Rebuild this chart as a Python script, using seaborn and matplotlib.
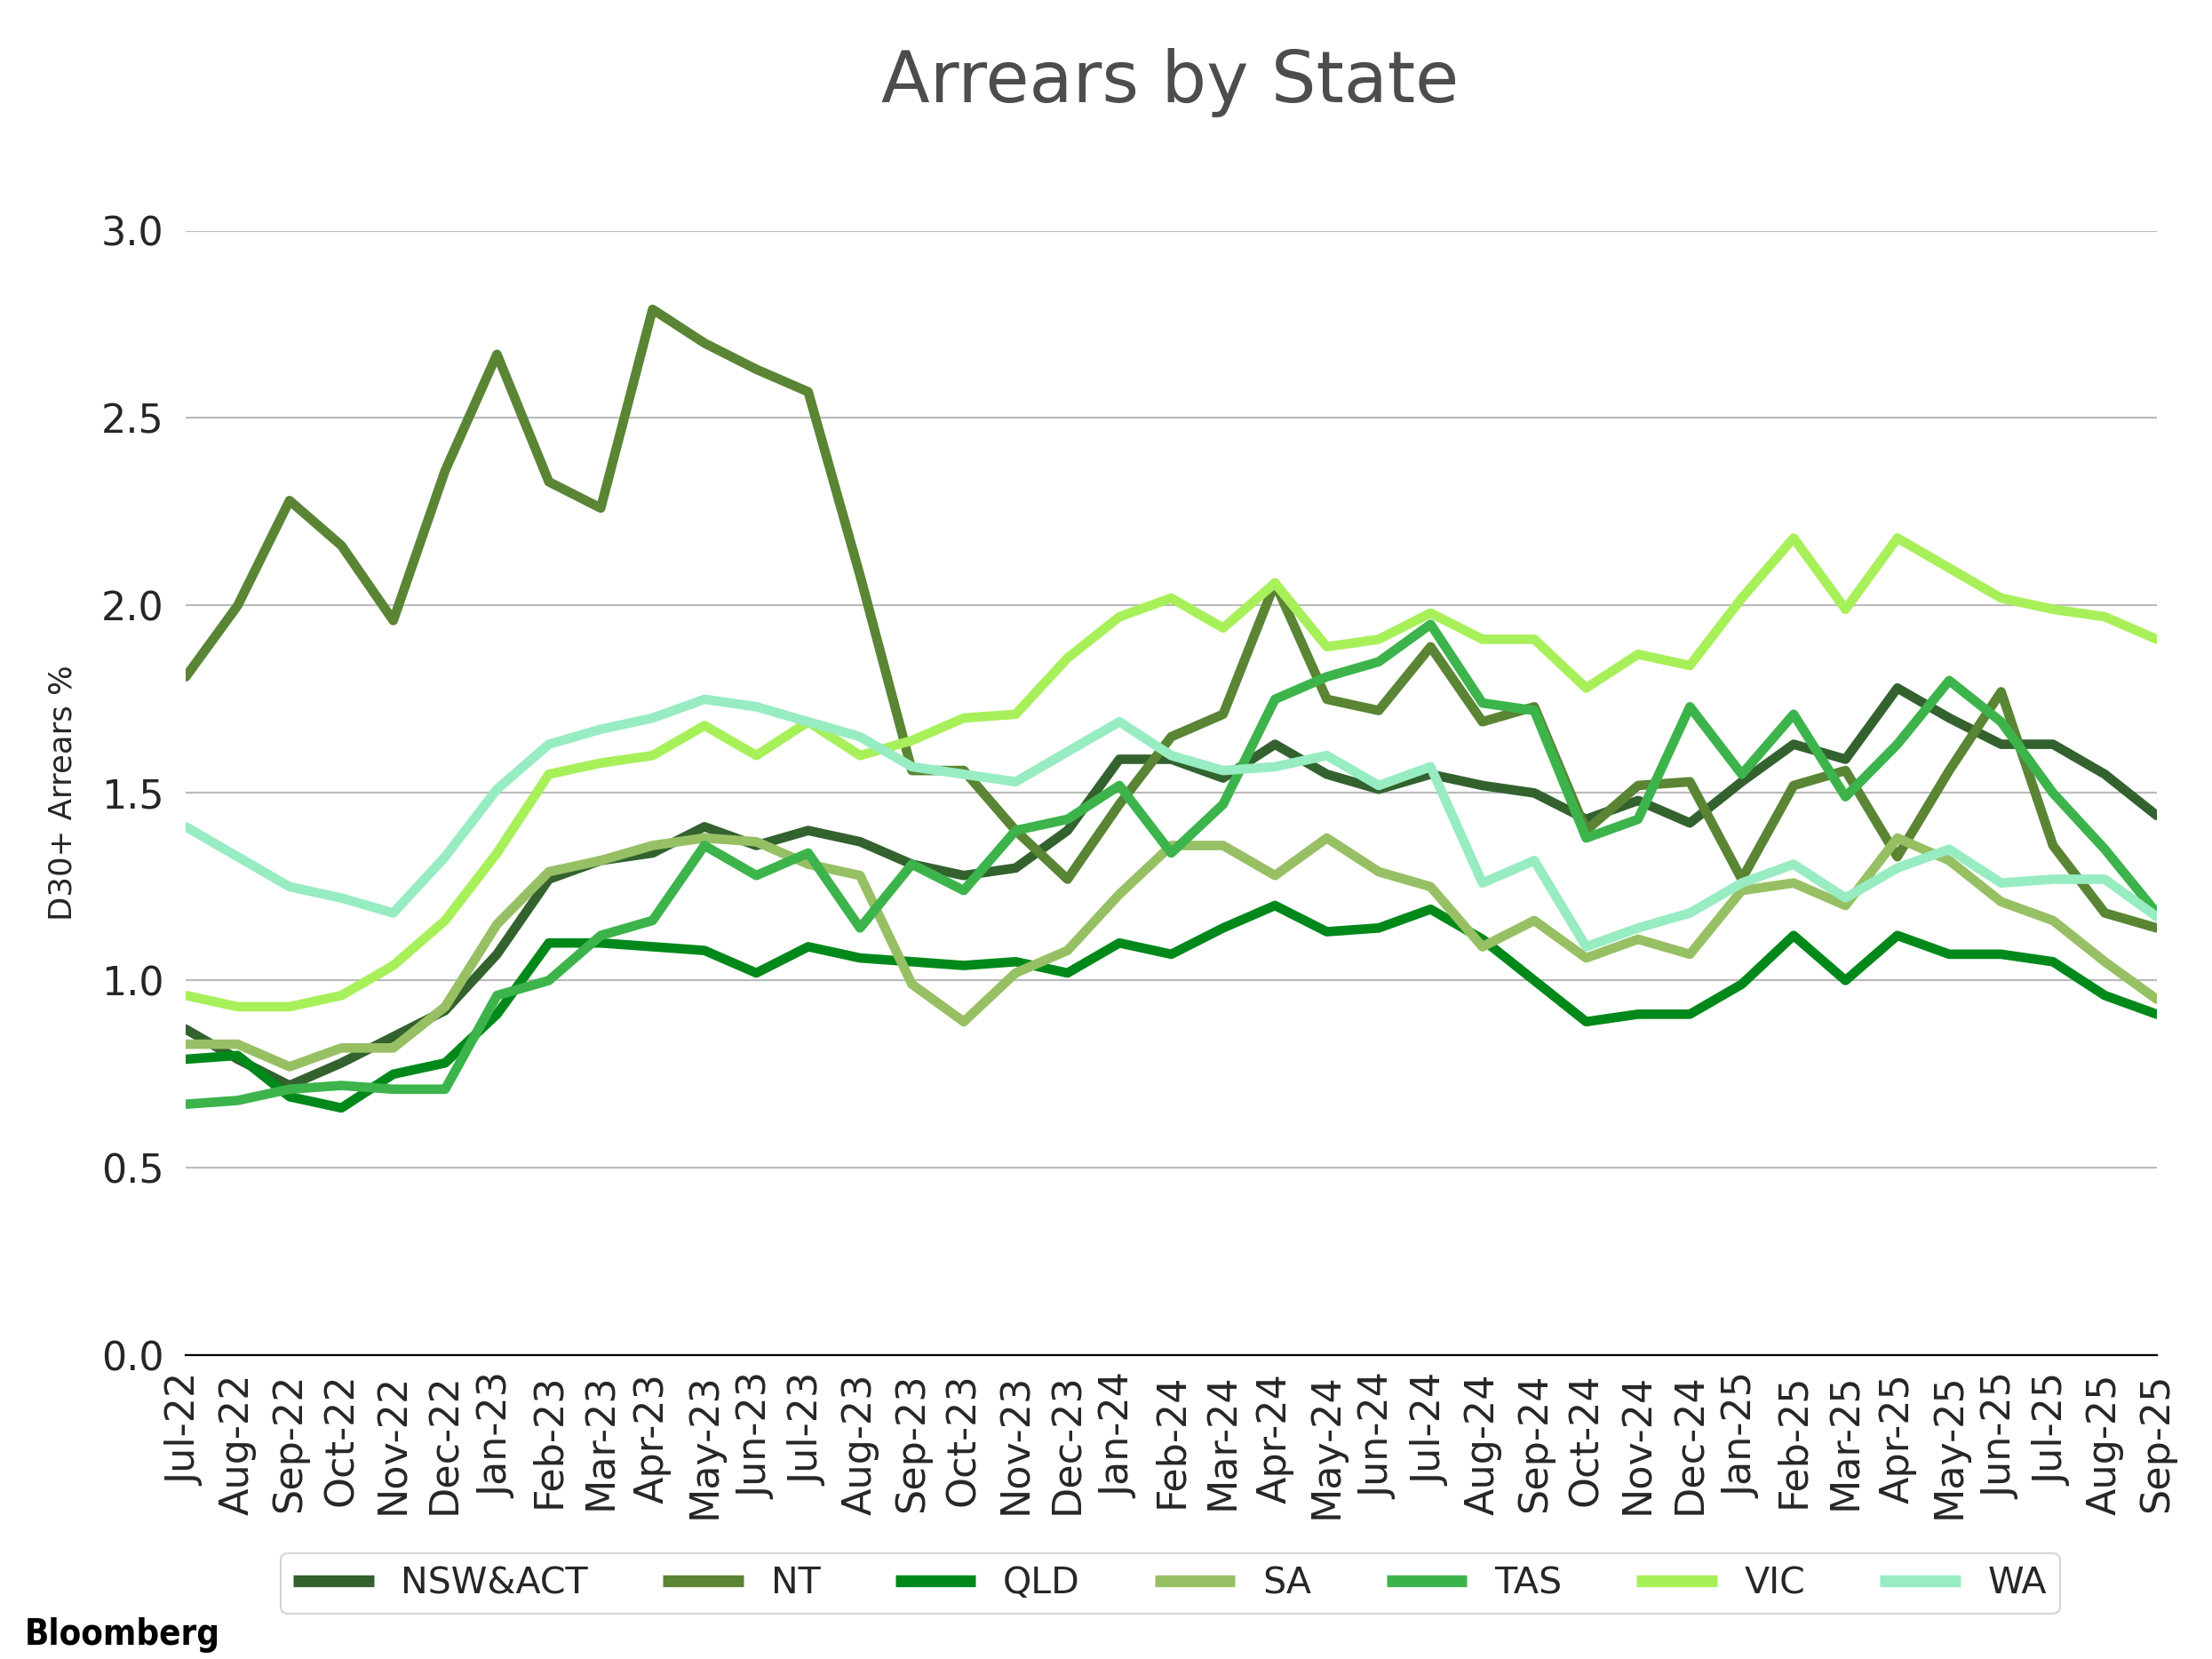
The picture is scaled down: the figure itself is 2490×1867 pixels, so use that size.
import numpy as np
import pandas as pd
import seaborn as sns
import matplotlib
matplotlib.use("Agg")
import matplotlib.pyplot as plt

months = ["Jul-22","Aug-22","Sep-22","Oct-22","Nov-22","Dec-22","Jan-23","Feb-23","Mar-23","Apr-23",
          "May-23","Jun-23","Jul-23","Aug-23","Sep-23","Oct-23","Nov-23","Dec-23","Jan-24","Feb-24",
          "Mar-24","Apr-24","May-24","Jun-24","Jul-24","Aug-24","Sep-24","Oct-24","Nov-24","Dec-24",
          "Jan-25","Feb-25","Mar-25","Apr-25","May-25","Jun-25","Jul-25","Aug-25","Sep-25"]

nsw_act = [0.87, 0.79, 0.72, 0.78, 0.85, 0.92, 1.07, 1.27, 1.32, 1.34, 1.41, 1.36, 1.40, 1.37, 1.31, 1.28,
           1.30, 1.40, 1.59, 1.59, 1.54, 1.63, 1.55, 1.51, 1.55, 1.52, 1.50, 1.43, 1.48, 1.42, 1.53, 1.63,
           1.59, 1.78, 1.70, 1.63, 1.63, 1.55, 1.44]
nt = [1.81, 2.00, 2.28, 2.16, 1.96, 2.36, 2.67, 2.33, 2.26, 2.79, 2.70, 2.63, 2.57, 2.08, 1.56, 1.56,
      1.40, 1.27, 1.47, 1.65, 1.71, 2.06, 1.75, 1.72, 1.89, 1.69, 1.73, 1.40, 1.52, 1.53, 1.27, 1.52,
      1.56, 1.33, 1.56, 1.77, 1.36, 1.18, 1.14]
qld = [0.79, 0.80, 0.69, 0.66, 0.75, 0.78, 0.91, 1.10, 1.10, 1.09, 1.08, 1.02, 1.09, 1.06, 1.05, 1.04,
       1.05, 1.02, 1.10, 1.07, 1.14, 1.20, 1.13, 1.14, 1.19, 1.11, 1.00, 0.89, 0.91, 0.91, 0.99, 1.12,
       1.00, 1.12, 1.07, 1.07, 1.05, 0.96, 0.91]
sa = [0.83, 0.83, 0.77, 0.82, 0.82, 0.93, 1.15, 1.29, 1.32, 1.36, 1.38, 1.37, 1.31, 1.28, 0.99, 0.89,
      1.02, 1.08, 1.23, 1.36, 1.36, 1.28, 1.38, 1.29, 1.25, 1.09, 1.16, 1.06, 1.11, 1.07, 1.24, 1.26,
      1.20, 1.38, 1.32, 1.21, 1.16, 1.05, 0.95]
tas = [0.67, 0.68, 0.71, 0.72, 0.71, 0.71, 0.96, 1.00, 1.12, 1.16, 1.36, 1.28, 1.34, 1.14, 1.31, 1.24,
       1.40, 1.43, 1.52, 1.34, 1.47, 1.75, 1.81, 1.85, 1.95, 1.74, 1.72, 1.38, 1.43, 1.73, 1.55, 1.71,
       1.49, 1.63, 1.80, 1.69, 1.50, 1.35, 1.18]
vic = [0.96, 0.93, 0.93, 0.96, 1.04, 1.16, 1.34, 1.55, 1.58, 1.60, 1.68, 1.60, 1.69, 1.60, 1.64, 1.70,
       1.71, 1.86, 1.97, 2.02, 1.94, 2.06, 1.89, 1.91, 1.98, 1.91, 1.91, 1.78, 1.87, 1.84, 2.02, 2.18,
       1.99, 2.18, 2.10, 2.02, 1.99, 1.97, 1.91]
wa = [1.41, 1.33, 1.25, 1.22, 1.18, 1.33, 1.51, 1.63, 1.67, 1.70, 1.75, 1.73, 1.69, 1.65, 1.57, 1.55,
      1.53, 1.61, 1.69, 1.60, 1.56, 1.57, 1.60, 1.52, 1.57, 1.26, 1.32, 1.09, 1.14, 1.18, 1.26, 1.31,
      1.22, 1.30, 1.35, 1.26, 1.27, 1.27, 1.17]

states = ["NSW&ACT", "NT", "QLD", "SA", "TAS", "VIC", "WA"]
series = [nsw_act, nt, qld, sa, tas, vic, wa]
colors = ["#33622f", "#5a8534", "#00891a", "#97c064", "#3cb44b", "#a8f05a", "#98ecc2"]

rows = []
for s, vals in zip(states, series):
    for i, v in enumerate(vals):
        rows.append({"idx": i, "value": v, "state": s})
df = pd.DataFrame(rows)

sns.set_style("white")
plt.rcParams['font.family'] = ['DejaVu Sans']

fig = plt.figure(figsize=(2490/160, 1867/160), dpi=160)
ax = fig.add_axes([0.084, 0.183, 0.891, 0.678])

sns.lineplot(data=df, x="idx", y="value", hue="state", palette=dict(zip(states, colors)),
             hue_order=states, linewidth=4.8, ax=ax, legend=False)

ax.set_xlim(0, len(months) - 1)
ax.set_ylim(0, 3.0)
ax.set_yticks([0.0, 0.5, 1.0, 1.5, 2.0, 2.5, 3.0])
ax.set_yticklabels(["0.0", "0.5", "1.0", "1.5", "2.0", "2.5", "3.0"])
ax.set_xticks(range(len(months)))
ax.set_xticklabels(months, rotation=90)
ax.tick_params(axis='y', labelsize=20, length=5, width=0.8, color="#555555", pad=6)
ax.tick_params(axis='x', labelsize=20, length=5, width=0.8, color="#555555", pad=4)
ax.grid(axis='y', color="#bbbbbb", linewidth=1.0)
ax.grid(axis='x', visible=False)
ax.set_axisbelow(True)
for sp in ["top", "right", "left"]:
    ax.spines[sp].set_visible(False)
ax.spines["bottom"].set_color("black")
ax.spines["bottom"].set_linewidth(1.0)
ax.set_xlabel("")
ax.set_ylabel("D30+ Arrears %", fontsize=16, labelpad=12)

fig.text(0.529, 0.95, "Arrears by State", ha="center", va="center", fontsize=36, color="#4d4d4d")

handles = [plt.Line2D([0], [0], color=c, lw=6, solid_capstyle="butt") for c in colors]
leg = fig.legend(handles, states, loc="center", bbox_to_anchor=(0.529, 0.0455), ncol=7,
                 fontsize=18.5, frameon=True, handlelength=2.2, columnspacing=2.05, handletextpad=0.75,
                 fancybox=True, borderpad=0.35, borderaxespad=0.2)
leg.get_frame().set_edgecolor("#cccccc")

fig.text(0.011, 0.0146, "Bloomberg", ha="left", va="center", fontsize=18, fontweight="bold",
         color="black", fontstretch="condensed")

fig.savefig("out.png", dpi=160)
